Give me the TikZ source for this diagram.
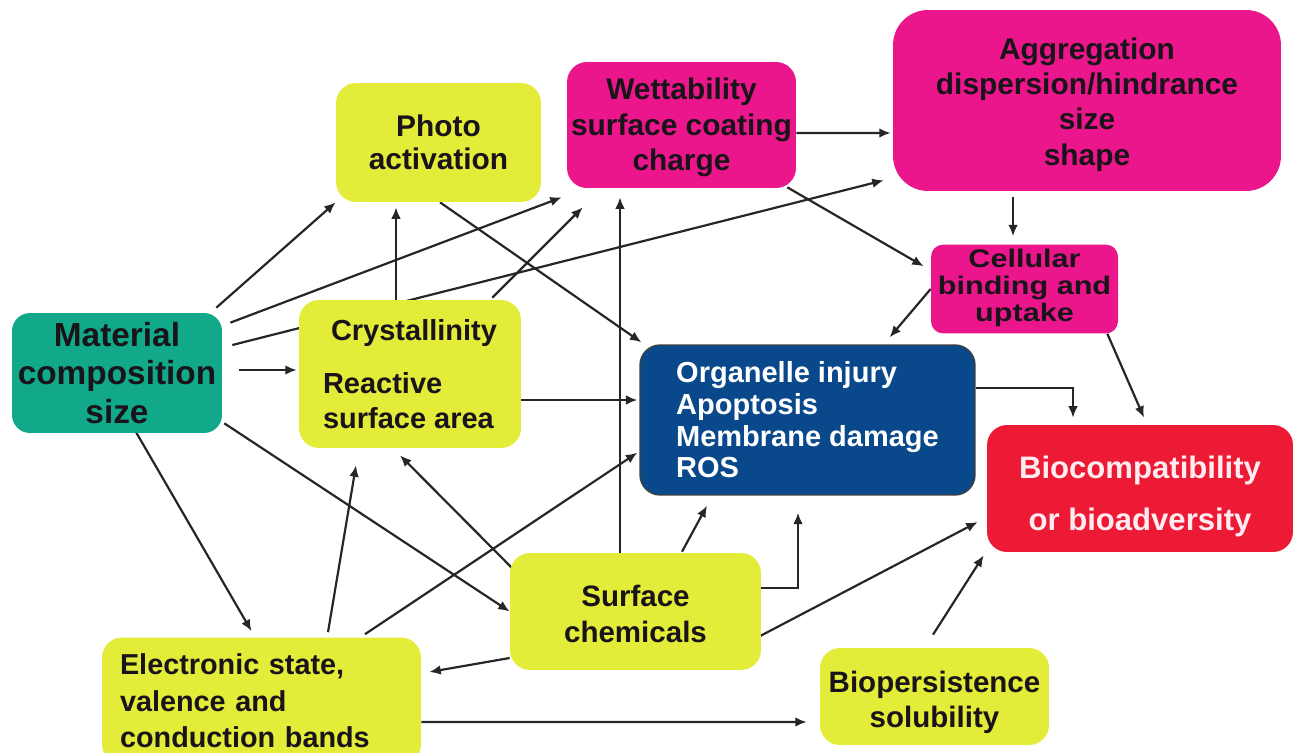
\documentclass[tikz,border=0pt]{standalone}
\usepackage{fontspec}
\setmainfont{Liberation Sans}
\usepackage{tikz}
\usepackage{xcolor}
\usetikzlibrary{positioning, arrows.meta, calc, backgrounds}
\definecolor{fyellow}{RGB}{228, 236, 58}
\definecolor{fpink}{RGB}{236, 22, 140}
\definecolor{fteal}{RGB}{18, 168, 138}
\definecolor{fblue}{RGB}{10, 72, 140}
\definecolor{fred}{RGB}{236, 26, 52}
\definecolor{ftext}{RGB}{25, 20, 25}
\definecolor{flight}{RGB}{255, 236, 240}
\tikzset{
    factnode/.style={rectangle, rounded corners=0.4cm, inner sep=2pt, align=center, text=ftext},
    yellownode/.style={factnode, fill=fyellow},
    pinknode/.style={factnode, fill=fpink},
    tealnode/.style={factnode, fill=fteal},
    bluenode/.style={factnode, fill=fblue, draw=black!75, line width=0.8pt, text=white},
    rednode/.style={factnode, fill=fred, text=flight},
    fsz/.style 2 args={font=\fontsize{#1}{#2}\selectfont\bfseries},
    link/.style={-{Latex[length=6.5pt,width=5.5pt]}, line width=1.25pt, draw=black!85}
}

\begin{document}
\begin{tikzpicture}[x=0.02cm, y=-0.02cm]
    \useasboundingbox (0,0) rectangle (1297,753);
    % boxes
    \node[tealnode, fsz={19pt}{21.8pt}, rounded corners=0.36cm, minimum width=4.2cm, minimum height=2.4cm] (mat) at (117,373) {Material\\composition\\size};
    \node[yellownode, fsz={17pt}{19pt}, minimum width=4.1cm, minimum height=2.38cm] (photo) at (438.5,142.5) {Photo\\activation};
    \node[pinknode, fsz={17pt}{20pt}, minimum width=4.58cm, minimum height=2.52cm] (wett) at (681.5,125) {\rule{0pt}{15pt}Wettability\\surface coating\\charge};
    \node[pinknode, fsz={17pt}{20pt}, rounded corners=0.7cm, minimum width=7.76cm, minimum height=3.62cm] (agg) at (1087,100.5) {\rule{0pt}{17pt}Aggregation\\dispersion/hindrance\\size\\shape};
    \node[pinknode, fsz={14.5pt}{15.5pt}, rounded corners=0.24cm, minimum width=3.74cm, minimum height=1.76cm] (cell) at (1024.5,289) {\scalebox{1.2}[1]{\begin{tabular}{@{}c@{}}Cellular\\binding and\\uptake\end{tabular}}};
    \node[yellownode, fsz={16.5pt}{20pt}, align=left, minimum width=4.44cm, minimum height=2.96cm] (cryst) at (410,374) {\hspace*{0.16cm}Crystallinity\\[0.36cm]Reactive\\surface area};
    \node[bluenode, fsz={16.5pt}{18pt}, align=left, minimum width=6.7cm, minimum height=3cm] (org) at (807.5,420) {Organelle injury\\Apoptosis\\Membrane damage\\ROS};
    \node[rednode, fsz={17.7pt}{29.5pt}, minimum width=6.12cm, minimum height=2.54cm] (bio) at (1140,488.5) {\rule{0pt}{22pt}Biocompatibility\\or bioadversity};
    \node[yellownode, fsz={16.8pt}{20.4pt}, minimum width=5.02cm, minimum height=2.34cm] (surf) at (635.5,611.5) {\rule{0pt}{15pt}Surface\\chemicals};
    \node[yellownode, fsz={16.4pt}{20.7pt}, align=left, text width=5.66cm, inner xsep=0.36cm, minimum height=2.54cm] (elec) at (261.5,701) {Electronic state,\\valence and\\conduction bands};
    \node[yellownode, fsz={16.8pt}{19.8pt}, minimum width=4.58cm, minimum height=1.94cm] (biop) at (934.5,696.5) {\rule{0pt}{19pt}Biopersistence\\solubility};

    % connectors
    \begin{scope}[on background layer]
        \draw[link] ($(mat.north east)+(-6,-5)$) -- (photo.south west);
        \draw[link] ($(mat.north east)+(8,10)$) -- ($(wett.south west)+(-5,9)$);
        \draw[link] ($(mat.east)+(10,-28)$) -- ($(agg.south west)+(-9,-11)$);
        \draw[link] ($(mat.east)+(17,-3)$) -- ($(cryst.west)+(-2,-4)$);
        \draw[link] ($(mat.south east)+(2,-10)$) -- (surf.west);
        \draw[link] ($(mat.south)+(18,-3)$) -- ($(elec.north)+(-10,-6)$);
        \draw[link] ($(cryst.north)+(-14,0)$) -- ($(photo.south)+(-42.5,5)$);
        \draw[link] ($(cryst.north east)+(-29,-2)$) -- ($(wett.south west)+(16,19)$);
        \draw[link] ($(cryst.east)+(0,26)$) -- ($(org.west)+(-2,-20)$);
        \draw[link] ($(photo.south)+(1.5,0)$) -- ($(org.north west)+(2,-2)$);
        \draw[link] ($(wett.east)+(0,8)$) -- ($(agg.west)+(-2,32.5)$);
        \draw[link] ($(wett.south east)+(-9,-1)$) -- ($(cell.north west)+(-7,22)$);
        \draw[link] ($(agg.south)+(-74,6)$) -- ($(cell.north)+(-11.5,-8)$);
        \draw[link] (cell.west) -- ($(org.north east)+(-86,-7)$);
        \draw[link] ($(cell.south east)+(-11,0)$) -- ($(bio.north)+(4,-7)$);
        \draw[link] ($(org.east)+(0,-32)$) -| ($(bio.north)+(-67,-7)$);
        \draw[link] ($(surf.north)+(-15.5,0)$) -- ($(wett.south)+(-61.5,9)$);
        \draw[link] ($(surf.north west)+(2,15)$) -- ($(cryst.south)+(-10,7)$);
        \draw[link] ($(surf.north)+(46.5,-1)$) -- ($(org.south)+(-100.5,10)$);
        \draw[link] ($(surf.east)+(0,-23.5)$) -| ($(org.south)+(-9.5,17)$);
        \draw[link] ($(surf.east)+(-5,26.5)$) -- ($(bio.west)+(-9,33.5)$);
        \draw[link] ($(surf.west)+(0,46.5)$) -- ($(elec.east)+(8,-29)$);
        \draw[link] ($(elec.north)+(66.5,-5)$) -- ($(cryst.south)+(-54,17)$);
        \draw[link] ($(elec.north)+(103.5,-3)$) -- ($(org.south west)+(-2,-43)$);
        \draw[link] ($(elec.east)+(0,21)$) -- ($(biop.west)+(-13,25.5)$);
        \draw[link] ($(biop.north)+(-1.5,-13)$) -- ($(bio.south west)+(-3,3)$);
    \end{scope}
\end{tikzpicture}
\end{document}
